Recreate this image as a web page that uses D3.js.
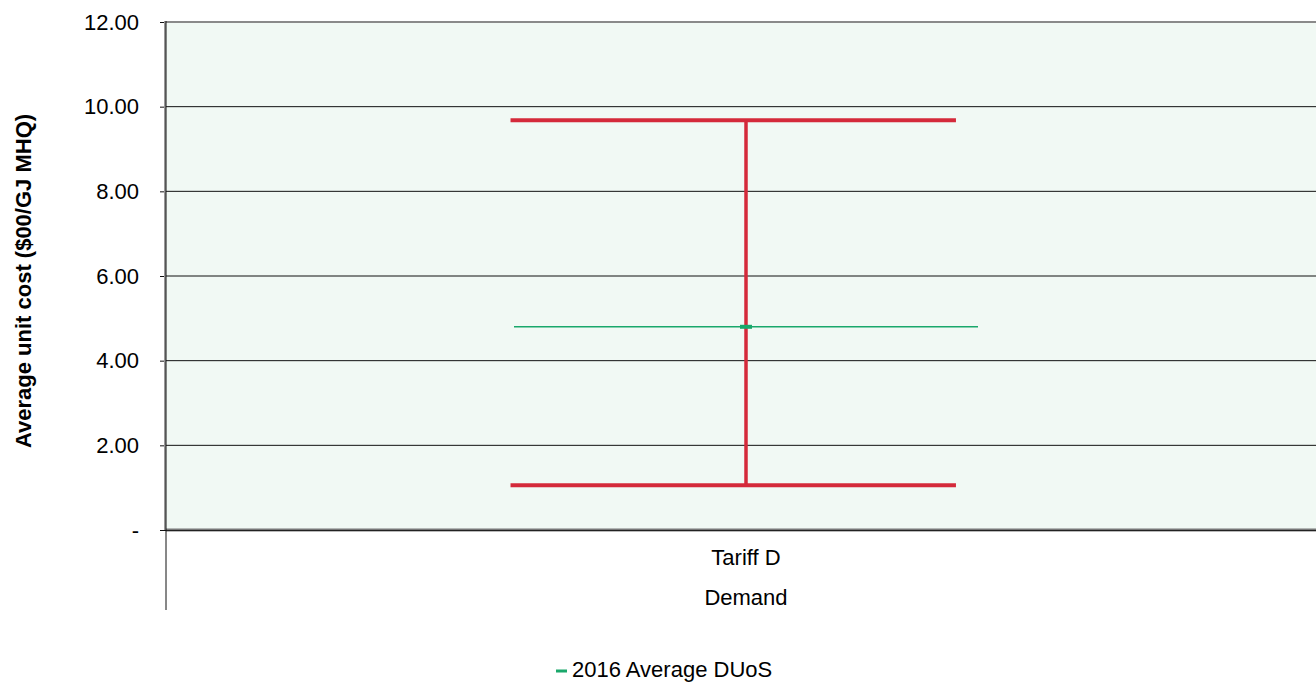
<!DOCTYPE html>
<html><head><meta charset="utf-8">
<script src="https://cdn.jsdelivr.net/npm/d3@7"></script>
<style>body{margin:0;background:#fff;overflow:hidden}svg{display:block;font-family:"Liberation Sans",Arial,sans-serif}</style>
</head><body><svg id="c" width="1316" height="683"></svg>
<script>
const categories = ["Tariff D"];
const groups = ["Demand"];
const maxValues = [9.68];
const minValues = [1.06];
const avgValues = [4.80];
const yTicks = [0, 2, 4, 6, 8, 10, 12];
const yTickLabels = ["-", "2.00", "4.00", "6.00", "8.00", "10.00", "12.00"];
const seriesName = "2016 Average DUoS";
const yTitle = "Average unit cost ($00/GJ MHQ)";

const svg = d3.select("#c");
const L = 166, R = 1326, T = 22, B = 530;
const FS = 22;
const x = d3.scaleBand().domain(categories).range([L, R]);
const y = d3.scaleLinear().domain([0, 12]).range([B, T]);

svg.append("rect").attr("x", L).attr("y", T).attr("width", R - L).attr("height", B - T).attr("fill", "#f1f9f4");

// grid
svg.append("g").selectAll("line").data(yTicks.filter(d => d > 0 && d < 12)).join("line")
  .attr("x1", L).attr("x2", R).attr("y1", d => y(d)).attr("y2", d => y(d))
  .attr("stroke", "#111").attr("stroke-width", 1);
// top border
svg.append("line").attr("x1", L).attr("x2", R).attr("y1", y(12)).attr("y2", y(12)).attr("stroke", "#8a8a8a").attr("stroke-width", 2);
// bottom axis
svg.append("line").attr("x1", L).attr("x2", R).attr("y1", y(0)).attr("y2", y(0)).attr("stroke", "#777").attr("stroke-width", 3);
svg.append("line").attr("x1", L).attr("x2", R).attr("y1", y(0) + 0.5).attr("y2", y(0) + 0.5).attr("stroke", "#222").attr("stroke-width", 1);

// y axis
const yAxis = d3.axisLeft(y).tickValues(yTicks).tickFormat((d, i) => yTickLabels[i]).tickSize(6).tickPadding(21);
const gy = svg.append("g").attr("transform", `translate(${L},0)`).call(yAxis);
gy.attr("font-size", FS).attr("font-family", "Liberation Sans, Arial, sans-serif");
gy.select(".domain").remove();
gy.selectAll(".tick line").attr("stroke", "#111");
gy.selectAll(".tick text").attr("fill", "#000");
svg.append("line").attr("x1", L - 1).attr("x2", L - 1).attr("y1", T - 1).attr("y2", B).attr("stroke", "#999").attr("stroke-width", 2);
svg.append("line").attr("x1", L).attr("x2", L).attr("y1", T - 1).attr("y2", 610).attr("stroke", "#111").attr("stroke-width", 1);

// y title
svg.append("text").attr("transform", `translate(31,281) rotate(-90)`).attr("text-anchor", "middle")
  .attr("font-size", FS).attr("font-weight", "bold").text(yTitle);

// category labels
const bw = x.bandwidth();
svg.append("g").selectAll("text").data(categories).join("text")
  .attr("x", d => x(d) + bw * 0.5).attr("y", 565).attr("text-anchor", "middle").attr("font-size", FS).text(d => d);
svg.append("g").selectAll("text").data(groups).join("text")
  .attr("x", d => x(categories[0]) + bw * 0.5).attr("y", 605).attr("text-anchor", "middle").attr("font-size", FS).text(d => d);

// error bars
const red = "#d42a3a";
const green = "#1aa86b";
const g = svg.append("g");
categories.forEach((c, i) => {
  const cx = x(c) + bw / 2;
  g.append("line").attr("x1", cx).attr("x2", cx).attr("y1", y(maxValues[i])).attr("y2", y(minValues[i]))
    .attr("stroke", red).attr("stroke-width", 3.5);
  [maxValues[i], minValues[i]].forEach(v => {
    g.append("line").attr("x1", x(c) + bw * 0.297).attr("x2", x(c) + bw * 0.681)
      .attr("y1", y(v)).attr("y2", y(v)).attr("stroke", red).attr("stroke-width", 4);
  });
  g.append("line").attr("x1", x(c) + bw * 0.3).attr("x2", x(c) + bw * 0.7)
    .attr("y1", y(avgValues[i])).attr("y2", y(avgValues[i])).attr("stroke", green).attr("stroke-width", 1.6);
  g.append("rect").attr("x", cx - 6).attr("y", y(avgValues[i]) - 2).attr("width", 12).attr("height", 4).attr("fill", green);
});

// legend
svg.append("rect").attr("x", 556).attr("y", 669.5).attr("width", 11).attr("height", 3).attr("fill", green);
svg.append("text").attr("x", 572).attr("y", 677).attr("font-size", FS).text(seriesName);
</script></body></html>
